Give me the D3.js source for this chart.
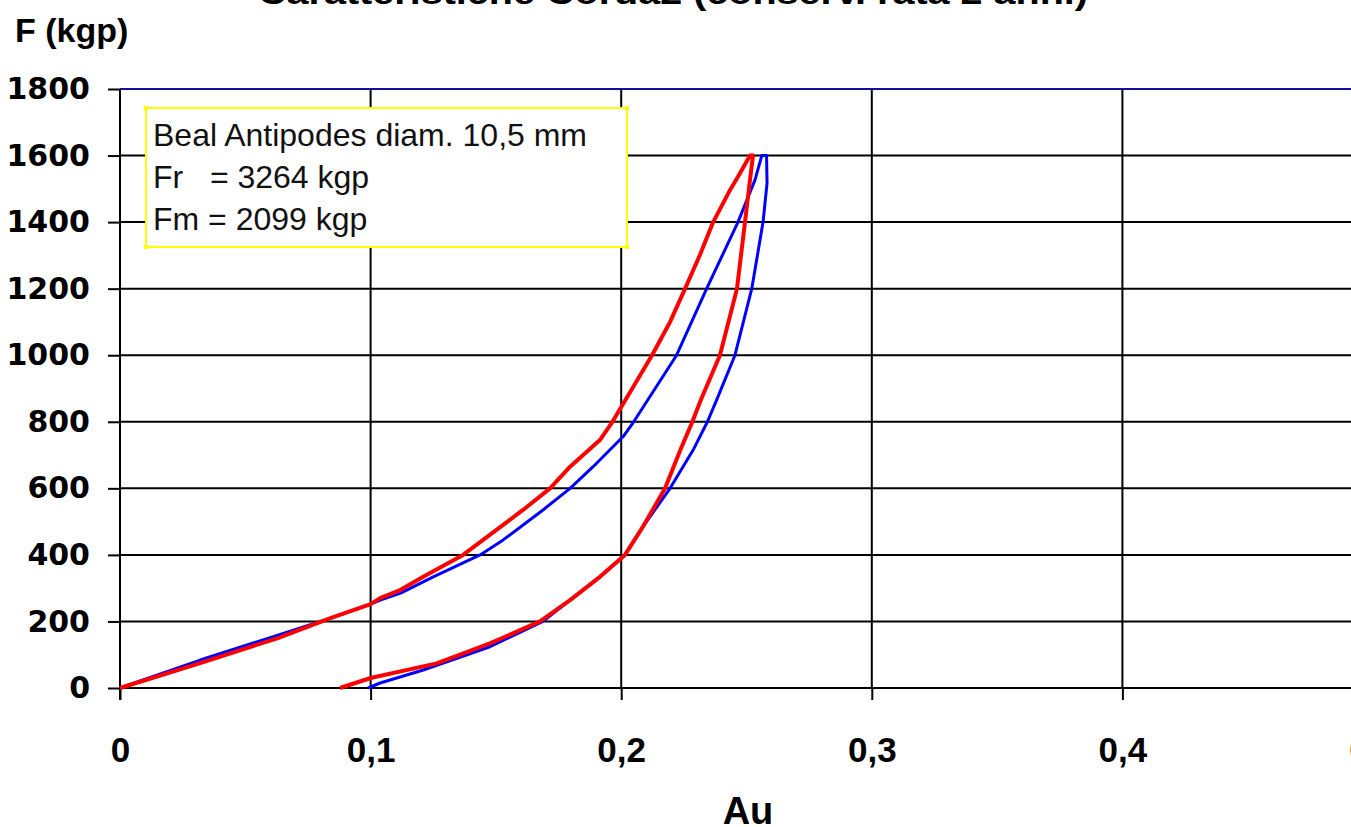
<!DOCTYPE html>
<html>
<head>
<meta charset="utf-8">
<script src="https://cdn.jsdelivr.net/npm/d3@7"></script>
<style>
  body { margin: 0; background: #fff; overflow: hidden; }
  svg { display: block; }
  .grid line { stroke: #000; stroke-width: 2; }
  .axis path { display: none; }
  .axis line { stroke: #000; stroke-width: 2; }
</style>
</head>
<body>
<div id="chart"></div>
<script>
// ---------------------------DATA---------------------------------
const title = "Caratteristiche Corda2 (conserv. rata 2 anni)";
const yTicks = [0, 200, 400, 600, 800, 1000, 1200, 1400, 1600, 1800];
const xTicks = [0, 0.1, 0.2, 0.3, 0.4, 0.5];
const noteLines = ["Beal Antipodes diam. 10,5 mm", "Fr   = 3264 kgp", "Fm = 2099 kgp"];

// blue test: loading then unloading (Au, F)
const blueAu = [0, 0.032, 0.063, 0.084, 0.100, 0.1038, 0.112, 0.125, 0.1437, 0.1529, 0.1688, 0.1796, 0.1888, 0.2007, 0.205, 0.2221, 0.2341, 0.2466, 0.2534, 0.2561, 0.2580,
                0.2582, 0.2566, 0.2521, 0.2454, 0.2381, 0.2344, 0.2287, 0.2195, 0.2087, 0.2015, 0.1915, 0.1796, 0.1688, 0.1476, 0.1210, 0.1038, 0.099];
const blueF  = [0, 84, 159, 210, 252, 264, 285, 334, 400, 445, 535, 600, 665, 755, 800, 1000, 1200, 1400, 1527, 1600, 1600,
                1517, 1400, 1200, 1000, 866, 800, 715, 600, 485, 400, 334, 264, 200, 124, 54, 15, 0];

// red test: loading then unloading (Au, F)
const redAu = [0, 0.032, 0.063, 0.084, 0.100, 0.1038, 0.112, 0.121, 0.1369, 0.1449, 0.1608, 0.1716, 0.1796, 0.1915, 0.1965, 0.2040, 0.2123, 0.2195, 0.2255, 0.2314, 0.2367, 0.2434, 0.2474, 0.2514, 0.2526,
               0.2514, 0.2494, 0.2462, 0.2394, 0.2318, 0.2284, 0.2236, 0.2175, 0.2087, 0.2015, 0.1915, 0.1796, 0.1676, 0.1476, 0.1264, 0.100, 0.0878];
const redF  = [0, 75, 150, 210, 252, 270, 295, 334, 400, 445, 535, 600, 665, 745, 800, 895, 1000, 1100, 1200, 1301, 1400, 1496, 1547, 1600, 1600,
               1527, 1400, 1200, 1000, 866, 800, 715, 600, 485, 400, 334, 264, 200, 134, 74, 30, 0];

// ---------------------------SPACE SETUP---------------------------------
const W = 1351, H = 827;
const plot = { left: 120, top: 89, bottom: 688 };

const svg = d3.select("#chart").append("svg")
    .attr("width", W)
    .attr("height", H);

const x = d3.scaleLinear().domain([0, 0.5]).range([plot.left, plot.left + 2506 * 0.5]);
const y = d3.scaleLinear().domain([0, 1800]).range([plot.bottom, plot.top]);

const comma = d => d === 0 ? "0" : d3.format(".1f")(d).replace(".", ",");

// ---------------------------GRID---------------------------------
svg.append("g").attr("class", "grid")
    .selectAll("line").data(yTicks.filter(d => d < 1800)).enter().append("line")
    .attr("x1", plot.left).attr("x2", W)
    .attr("y1", d => y(d)).attr("y2", d => y(d));

svg.append("g").attr("class", "grid")
    .selectAll("line").data(xTicks).enter().append("line")
    .attr("x1", d => x(d)).attr("x2", d => x(d))
    .attr("y1", plot.top).attr("y2", plot.bottom);

// top border is blue
svg.append("line")
    .attr("x1", plot.left).attr("x2", W)
    .attr("y1", y(1800)).attr("y2", y(1800))
    .attr("stroke", "#1010a0").attr("stroke-width", 2);

// ---------------------------AXES---------------------------------
const yAxis = d3.axisLeft(y).tickValues(yTicks).tickSize(12).tickPadding(18).tickFormat(d3.format("d"));
svg.append("g").attr("class", "axis")
    .attr("transform", `translate(${plot.left},0)`)
    .call(yAxis)
    .selectAll("text")
    .attr("fill", "#000")
    .style("font-family", "'DejaVu Sans', sans-serif")
    .style("font-weight", "bold")
    .style("font-size", "30px");

const xAxis = d3.axisBottom(x).tickValues(xTicks).tickSize(12).tickPadding(37).tickFormat(comma);
svg.append("g").attr("class", "axis")
    .attr("transform", `translate(0,${plot.bottom})`)
    .call(xAxis)
    .selectAll("text")
    .attr("fill", "#000")
    .style("font-family", "'Liberation Sans', Arial, sans-serif")
    .style("font-weight", "bold")
    .style("font-size", "35px");

// left axis line runs down to the tick
svg.append("line")
    .attr("x1", plot.left).attr("x2", plot.left)
    .attr("y1", plot.top).attr("y2", plot.bottom + 12)
    .attr("stroke", "#000").attr("stroke-width", 2);

// ---------------------------TITLES---------------------------------
svg.append("text")
    .attr("x", 673).attr("y", 4)
    .attr("text-anchor", "middle")
    .attr("textLength", 830).attr("lengthAdjust", "spacingAndGlyphs")
    .style("font-family", "'Liberation Sans', Arial, sans-serif")
    .style("font-weight", "bold").style("font-size", "34px")
    .text(title);

svg.append("text")
    .attr("x", 15).attr("y", 42)
    .style("font-family", "'Liberation Sans', Arial, sans-serif")
    .style("font-weight", "bold").style("font-size", "34px")
    .text("F (kgp)");

svg.append("text")
    .attr("x", 748).attr("y", 824)
    .attr("text-anchor", "middle")
    .style("font-family", "'Liberation Sans', Arial, sans-serif")
    .style("font-weight", "bold").style("font-size", "38px")
    .text("Au");

// ---------------------------NOTE BOX---------------------------------
const note = svg.append("g");
note.append("rect")
    .attr("x", 146).attr("y", 108).attr("width", 481).attr("height", 139)
    .attr("fill", "#fff").attr("stroke", "#ffff00").attr("stroke-width", 2);
note.selectAll("rect.h").data([[146, 108], [627, 108], [146, 247], [627, 247]]).enter().append("rect")
    .attr("class", "h")
    .attr("x", d => d[0] - 2).attr("y", d => d[1] - 2).attr("width", 4).attr("height", 4)
    .attr("fill", "#ffff00");
note.selectAll("text").data(noteLines).enter().append("text")
    .attr("x", 153).attr("y", (d, i) => 146 + i * 42)
    .style("font-family", "'Liberation Sans', Arial, sans-serif")
    .style("font-size", "32px")
    .style("white-space", "pre")
    .attr("fill", "#111")
    .text(d => d);

// ---------------------------CURVES---------------------------------
const line = d3.line().x(d => x(d[0])).y(d => y(d[1]));

svg.append("path")
    .datum(blueAu.map((a, i) => [a, blueF[i]]))
    .attr("d", line)
    .attr("fill", "none").attr("stroke", "#0000ff").attr("stroke-width", 3)
    .attr("stroke-linejoin", "round");

svg.append("path")
    .datum(redAu.map((a, i) => [a, redF[i]]))
    .attr("d", line)
    .attr("fill", "none").attr("stroke", "#ff0000").attr("stroke-width", 4)
    .attr("stroke-linejoin", "round");
</script>
</body>
</html>
